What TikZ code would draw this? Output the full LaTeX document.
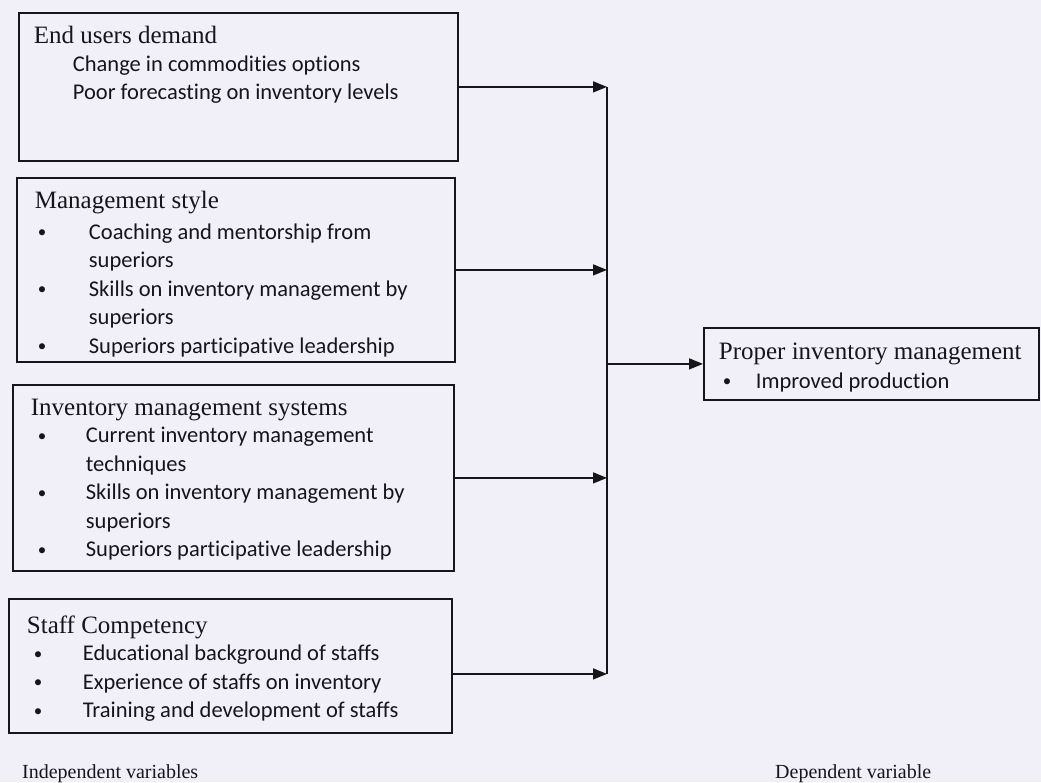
\documentclass[tikz,border=0pt]{standalone}
\usepackage{fontspec}
\setmainfont{Liberation Serif}
\newfontfamily\calfont[Ligatures=NoCommon]{Carlito}
\usetikzlibrary{arrows.meta}

\definecolor{paper}{RGB}{241,239,248}
\definecolor{ink}{RGB}{22,22,26}

% heading line: indent, height above baseline, text
\newcommand{\hd}[3]{\fontsize{25}{29}\selectfont\hspace*{#1pt}\rule{0pt}{#2pt}#3\par}
% plain line and bulleted line inside a box
\newcommand{\txt}[2]{\hspace*{#1pt}#2\par}
\newcommand{\bul}[3]{\hspace*{#1pt}\makebox[#2pt][l]{\raisebox{1.5pt}{\fontsize{17}{17}\selectfont\textbullet}}#3\par}
\newcommand{\boxtext}[3]{\parbox[c][#2pt][t]{#1pt}{\setlength{\parindent}{0pt}#3}}

\begin{document}
\begin{tikzpicture}[x=1pt,y=-1pt]
    \tikzset{
        varbox/.style = {draw=ink, line width=1.8pt, inner sep=0pt, anchor=north west, text=ink},
        link/.style = {draw=ink, line width=1.4pt, -{Triangle[length=14pt,width=11pt]}},
        caption/.style = {anchor=base west, inner sep=0pt, text=ink, font=\fontsize{20}{24}\selectfont}
    }
    \fill[paper] (0,0) rectangle (1041,782);
    \useasboundingbox (0,0) rectangle (1041,782);

    \node[varbox] (eud) at (18,12) {\boxtext{439}{148}{%
        \hd{15}{31}{End users demand}
        \calfont\fontsize{22.5}{28}\selectfont\vspace{0pt}
        \txt{54}{Change in commodities options}
        \txt{54}{Poor forecasting on inventory levels}}};

    \node[varbox] (ms) at (16,177) {\boxtext{438}{184}{%
        \hd{18}{31}{Management style}
        \calfont\fontsize{22.5}{28.5}\selectfont\vspace{2pt}
        \bul{21}{51}{Coaching and mentorship from}
        \txt{72}{superiors}
        \bul{21}{51}{Skills on inventory management by}
        \txt{72}{superiors}
        \bul{21}{51}{Superiors participative leadership}}};

    \node[varbox] (ims) at (12,384) {\boxtext{441}{186}{%
        \hd{18}{31}{Inventory management systems}
        \calfont\fontsize{22.5}{28.5}\selectfont\vspace{-1.5pt}
        \bul{25}{48}{Current inventory management}
        \txt{73}{techniques}
        \bul{25}{48}{Skills on inventory management by}
        \txt{73}{superiors}
        \bul{25}{48}{Superiors participative leadership}}};

    \node[varbox] (sc) at (8,598) {\boxtext{443}{134}{%
        \hd{18}{35}{Staff Competency}
        \calfont\fontsize{22.5}{28.5}\selectfont\vspace{-1.5pt}
        \bul{25}{49}{Educational background of staffs}
        \bul{25}{49}{Experience of staffs on inventory}
        \bul{25}{49}{Training and development of staffs}}};

    \node[varbox] (pim) at (703,327) {\boxtext{335}{72}{%
        \hd{15}{32}{Proper inventory management}
        \calfont\fontsize{22.5}{28.5}\selectfont
        \bul{19}{33}{Improved production}}};

    \node[caption] (iv) at (22,778) {Independent variables};
    \node[caption] (dv) at (775,778) {Dependent variable};

    \coordinate (bus) at (607,0);
    \draw[link] (eud.east) -- (eud.east -| bus);
    \draw[link] (ms.east) -- (ms.east -| bus);
    \draw[link] (ims.east) -- (ims.east -| bus);
    \draw[link] ([yshift=-8pt]sc.east) -- ([yshift=-8pt]sc.east -| bus);
    \draw[draw=ink, line width=1.4pt] (eud.east -| bus) -- ([yshift=-8pt]sc.east -| bus);
    \draw[link] (pim.west -| bus) -- (pim.west);
\end{tikzpicture}
\end{document}
